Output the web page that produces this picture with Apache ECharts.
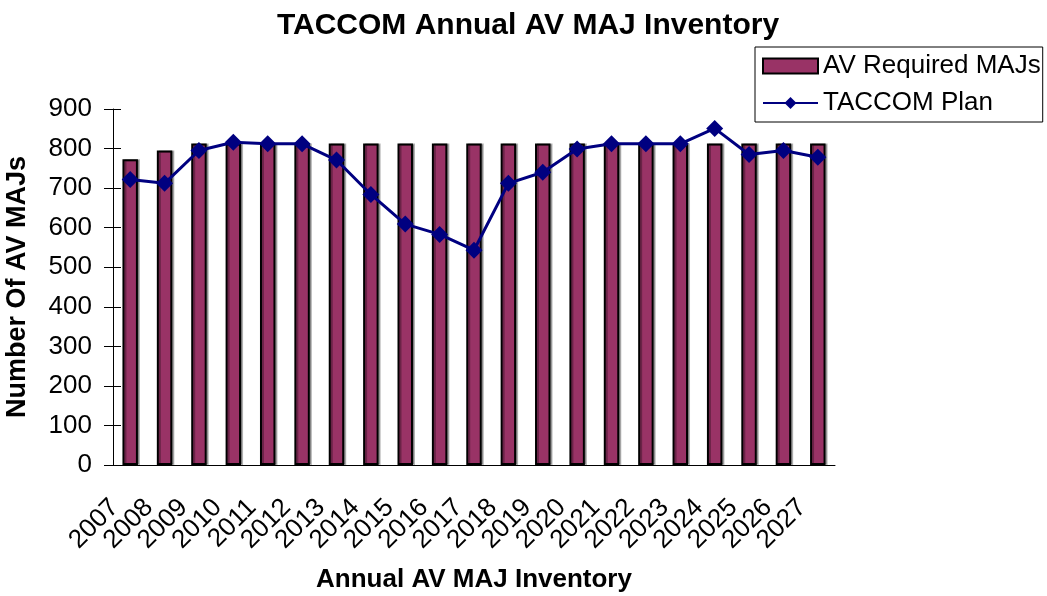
<!DOCTYPE html>
<html>
<head>
  <meta charset="utf-8">
  <title>TACCOM Annual AV MAJ Inventory</title>
  <style>
  html, body { margin: 0; padding: 0; background: #fff; }
  #chart { width: 1047px; height: 596px; }
  </style>
</head>
<body>
  <div id="chart"></div>
  <script src="https://cdn.jsdelivr.net/npm/echarts@6/dist/echarts.min.js"></script>
  <script>
  const years = ['2007', '2008', '2009', '2010', '2011', '2012', '2013', '2014', '2015', '2016', '2017',
    '2018', '2019', '2020', '2021', '2022', '2023', '2024', '2025', '2026', '2027']
  const required = [773, 795, 813, 813, 813, 813, 813, 813, 813, 813, 813,
    813, 813, 813, 813, 813, 813, 813, 813, 813, 813]
  const plan = [722, 712, 795, 816, 812, 812, 771, 684, 609, 583, 543,
    712, 740, 799, 812, 812, 812, 851, 785, 795, 778]
  const yTicks = { min: 0, max: 900, interval: 100 }

  const font = 'Liberation Sans, Arial, sans-serif'

  let option = {
    animation: false,
    textStyle: { fontFamily: font },
    title: {
      text: 'TACCOM Annual AV MAJ Inventory',
      left: 523,
      top: 6,
      textAlign: 'center',
      textStyle: { fontSize: 30, fontWeight: 'bold', color: '#000', fontFamily: font }
    },
    legend: {
      orient: 'vertical',
      left: 755,
      top: 47,
      padding: [6, 2, 6, 7],
      itemGap: 11,
      itemWidth: 55,
      itemHeight: 15,
      borderColor: '#000',
      borderWidth: 1,
      textStyle: { fontSize: 26, color: '#000', fontFamily: font },
      data: [
        { name: 'AV Required MAJs', icon: 'rect', itemStyle: { borderColor: '#000', borderWidth: 2 } },
        { name: 'TACCOM Plan' }
      ]
    },
    grid: { left: 113, right: 212, top: 109, bottom: 131, outerBoundsMode: 'none', containLabel: false },
    xAxis: [{
      type: 'category',
      data: years,
      name: 'Annual AV MAJ Inventory',
      nameLocation: 'middle',
      nameGap: 102,
      nameTextStyle: { fontSize: 26, fontWeight: 'bold', color: '#000', fontFamily: font },
      axisLine: { lineStyle: { color: '#000', width: 1 } },
      axisTick: { interval: 0, length: 8, lineStyle: { color: '#000' } },
      axisLabel: { interval: 0, rotate: 45, fontSize: 26, color: '#000', margin: 23,
        padding: [0, 22, 0, 0], fontFamily: font }
    }, {
      type: 'category',
      data: years,
      position: 'bottom',
      axisLine: { show: false },
      axisTick: { interval: 0, inside: true, length: 8, lineStyle: { color: '#000' } },
      axisLabel: { show: false }
    }],
    yAxis: [{
      type: 'value',
      min: yTicks.min,
      max: yTicks.max,
      interval: yTicks.interval,
      name: 'Number Of AV MAJs',
      nameLocation: 'middle',
      nameGap: 82,
      nameTextStyle: { fontSize: 27, fontWeight: 'bold', color: '#000', fontFamily: font },
      axisLine: { show: true, lineStyle: { color: '#000', width: 1 } },
      axisTick: { show: true, length: 9, lineStyle: { color: '#000' } },
      splitLine: { show: false },
      axisLabel: { fontSize: 26, color: '#000', margin: 21, fontFamily: font }
    }, {
      type: 'value',
      min: yTicks.min,
      max: yTicks.max,
      interval: yTicks.interval,
      position: 'left',
      axisLine: { show: false },
      axisTick: { show: true, inside: true, length: 8, lineStyle: { color: '#000' } },
      splitLine: { show: false },
      axisLabel: { show: false }
    }],
    series: [{
      name: 'AV Required MAJs',
      type: 'bar',
      barWidth: '45%',
      data: required,
      itemStyle: {
        color: '#993366',
        borderColor: '#000',
        borderWidth: 2,
        shadowColor: 'rgba(0,0,0,0.3)',
        shadowOffsetX: 2,
        shadowOffsetY: 0
      }
    }, {
      name: 'TACCOM Plan',
      type: 'line',
      data: plan,
      symbol: 'diamond',
      symbolSize: 17,
      itemStyle: { color: '#000080' },
      lineStyle: { color: '#000080', width: 3 },
      z: 5
    }]
  }

  let myChart = echarts.init(document.getElementById('chart'))
  myChart.setOption(option)
  </script>
</body>
</html>
